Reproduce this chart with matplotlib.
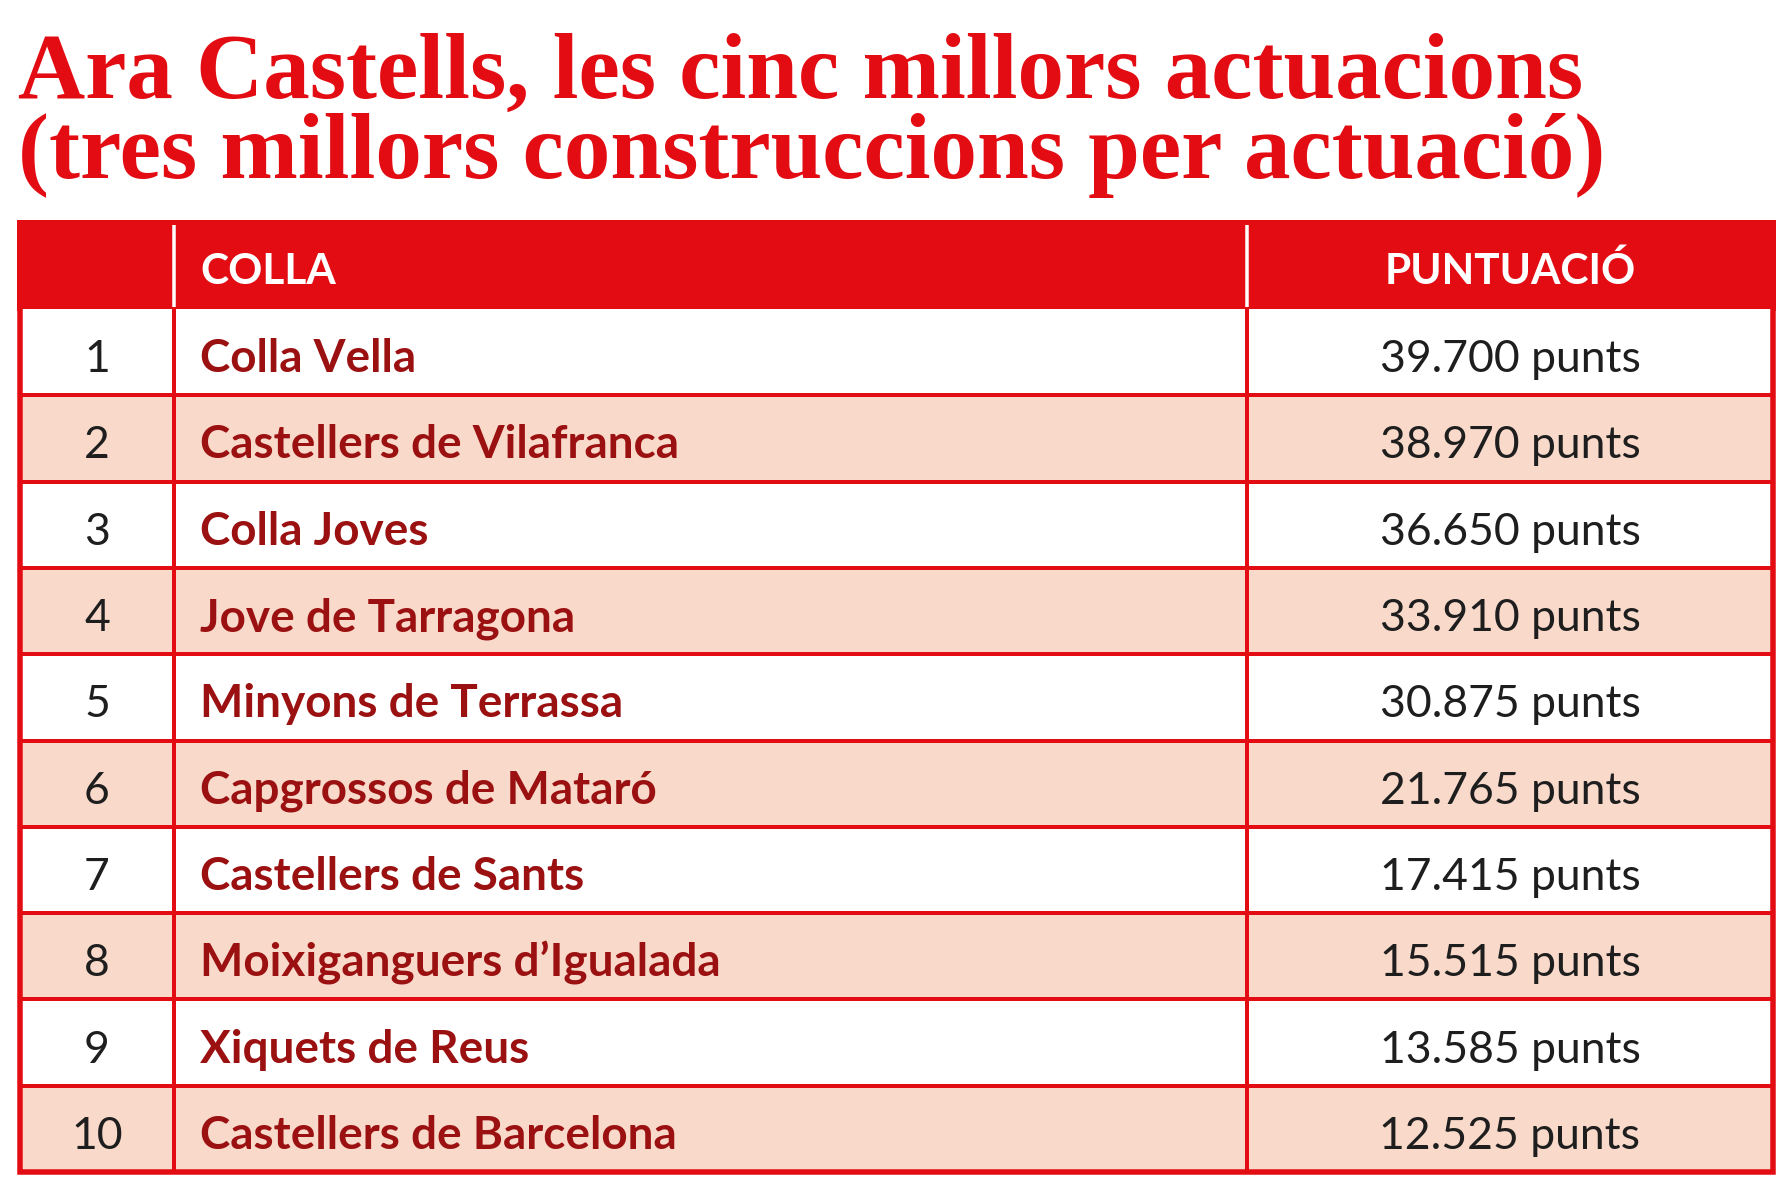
import matplotlib
matplotlib.use("Agg")
import matplotlib.pyplot as plt
from matplotlib.patches import Rectangle

# ---- data ----
title_lines = ["Ara Castells, les cinc millors actuacions",
               "(tres millors construccions per actuació)"]
header_labels = ["", "COLLA", "PUNTUACIÓ"]
ranks = [1, 2, 3, 4, 5, 6, 7, 8, 9, 10]
colles = ["Colla Vella", "Castellers de Vilafranca", "Colla Joves",
          "Jove de Tarragona", "Minyons de Terrassa", "Capgrossos de Mataró",
          "Castellers de Sants", "Moixiganguers d’Igualada", "Xiquets de Reus",
          "Castellers de Barcelona"]
punts = [39700, 38970, 36650, 33910, 30875, 21765, 17415, 15515, 13585, 12525]

# ---- style ----
W, H = 1783, 1183
RED = "#e30c13"
PINK = "#f8d9ca"
NAME_C = "#9b1010"
NUM_C = "#1e1e1e"
BODY_FONT = "Lato"
TITLE_FONT = "Liberation Serif"

fig = plt.figure(figsize=(W / 100, H / 100), dpi=100)
ax = fig.add_axes([0, 0, 1, 1])
ax.set_xlim(0, W)
ax.set_ylim(H, 0)
ax.axis("off")

px = 72 / 100  # points per pixel

# geometry
x_left, x_right = 20, 1773
x_div1, x_div2 = 174, 1247
head_top, head_bot = 220, 309
row_h = 86.3
n = len(ranks)
row_y = [head_bot + row_h * k for k in range(n + 1)]

# title (one two-line text block; baseline refers to the last line)
ax.text(18, 178, "\n".join(title_lines), fontsize=67,
        fontfamily=TITLE_FONT, fontweight="bold", color=RED,
        va="baseline", ha="left", linespacing=0.92, multialignment="left")

# header
ax.add_patch(Rectangle((17, head_top), 1776 - 17, head_bot - head_top + 2,
                       facecolor=RED, edgecolor="none", zorder=1))
for xd in (x_div1, x_div2):
    ax.plot([xd, xd], [head_top + 5, head_bot - 2], color="white",
            lw=3.5 * px, zorder=2, solid_capstyle="butt")
hy = (head_top + head_bot) / 2 + 19
ax.text(200, hy, header_labels[1], fontsize=30.5, fontfamily=BODY_FONT,
        fontweight="bold", color="white", va="baseline", ha="left", zorder=3)
ax.text((x_div2 + x_right) / 2, hy, header_labels[2], fontsize=30.5,
        fontfamily=BODY_FONT, fontweight="bold", color="white",
        va="baseline", ha="center", zorder=3)

# rows
for i in range(n):
    y0, y1 = row_y[i], row_y[i + 1]
    fc = PINK if i % 2 == 1 else "white"
    ax.add_patch(Rectangle((x_left, y0), x_right - x_left, y1 - y0,
                           facecolor=fc, edgecolor="none", zorder=1))
    yb = (y0 + y1) / 2 + 20
    ax.text((x_left + x_div1) / 2, yb, str(ranks[i]), fontsize=32,
            fontfamily=BODY_FONT, color=NUM_C, va="baseline", ha="center", zorder=3)
    ax.text(200, yb, colles[i], fontsize=33, fontfamily=BODY_FONT,
            fontweight="bold", color=NAME_C, va="baseline", ha="left", zorder=3)
    val = f"{punts[i]:,}".replace(",", ".") + " punts"
    ax.text((x_div2 + x_right) / 2, yb, val, fontsize=32,
            fontfamily=BODY_FONT, color=NUM_C, va="baseline", ha="center", zorder=3)

# inner lines
for k in range(1, n):
    ax.plot([x_left, x_right], [row_y[k], row_y[k]], color=RED, lw=4 * px,
            zorder=2, solid_capstyle="butt")
for xd in (x_div1, x_div2):
    ax.plot([xd, xd], [head_bot, row_y[-1]], color=RED, lw=4 * px,
            zorder=2, solid_capstyle="butt")

# outer border
ax.plot([x_left, x_left, x_right, x_right],
        [head_bot - 1, row_y[-1], row_y[-1], head_bot - 1],
        color=RED, lw=5.5 * px, zorder=2, solid_joinstyle="miter")

fig.savefig("out.png", dpi=100)
